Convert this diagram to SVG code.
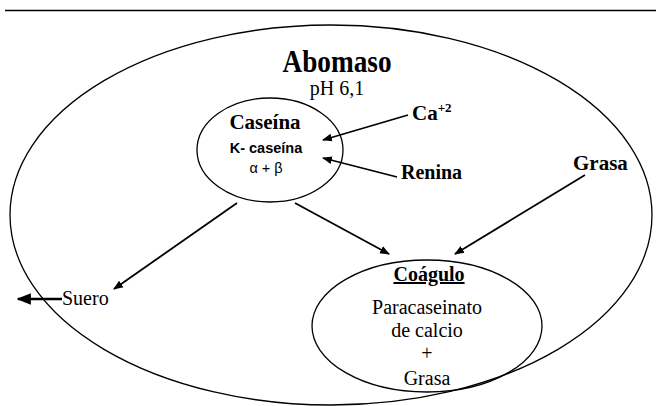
<svg xmlns="http://www.w3.org/2000/svg" width="656" height="406" viewBox="0 0 656 406">
<defs>
<style>
.sh{fill:none;stroke:#000;stroke-width:1.3}
.ln{fill:none;stroke:#000;stroke-width:1.8}
.t{font-family:"Liberation Serif","Times New Roman",serif;fill:#000}
.s{font-family:"Liberation Sans",Arial,sans-serif;fill:#000}
.b{font-weight:bold}
</style>
<marker id="ah" viewBox="0 0 10 10" refX="9" refY="5" markerWidth="5.5" markerHeight="5.5" orient="auto" markerUnits="strokeWidth">
<path d="M0,1 L10,5 L0,9 z" fill="#000"/>
</marker>
</defs>
<rect width="656" height="406" fill="#fff"/>
<line x1="5" y1="10.5" x2="656" y2="10.5" stroke="#000" stroke-width="1.6"/>
<g id="abomaso">
<ellipse class="sh" cx="331" cy="215" rx="321" ry="190"/>
<text class="t b" transform="translate(337,72) scale(0.88,1)" font-size="31" text-anchor="middle">Abomaso</text>
<text class="t" x="337" y="95" font-size="20" text-anchor="middle">pH 6,1</text>
</g>
<g id="caseina">
<ellipse class="sh" cx="270" cy="150" rx="73" ry="52"/>
<text class="t b" x="265" y="129" font-size="21" text-anchor="middle">Caseína</text>
<text class="s b" x="266" y="153" font-size="14.5" text-anchor="middle">K- caseína</text>
<text class="s" x="266" y="173" font-size="14.5" text-anchor="middle">α + β</text>
</g>
<g id="ca">
<text class="t b" x="412" y="120" font-size="21">Ca<tspan font-size="13" dy="-8">+2</tspan></text>
</g>
<g id="renina">
<text class="t b" x="401" y="179" font-size="20">Renina</text>
</g>
<g id="grasa">
<text class="t b" x="573" y="170" font-size="21">Grasa</text>
</g>
<g id="suero">
<text class="t" x="62" y="305" font-size="20">Suero</text>
</g>
<g id="coagulo">
<ellipse class="sh" cx="427" cy="326" rx="115" ry="66"/>
<text class="t b" x="429" y="281" font-size="20" text-anchor="middle" text-decoration="underline">Coágulo</text>
<text class="t" x="427" y="314" font-size="20" text-anchor="middle">Paracaseinato</text>
<text class="t" x="427" y="337" font-size="20" text-anchor="middle">de calcio</text>
<text class="t" x="427" y="360" font-size="20" text-anchor="middle">+</text>
<text class="t" x="427" y="385" font-size="20" text-anchor="middle">Grasa</text>
</g>
<g id="connectors">
<line class="ln" x1="408" y1="115" x2="323" y2="140" marker-end="url(#ah)"/>
<line class="ln" x1="397" y1="177" x2="323" y2="158" marker-end="url(#ah)"/>
<line class="ln" x1="237" y1="203" x2="114" y2="289" marker-end="url(#ah)"/>
<line class="ln" x1="295" y1="203" x2="389" y2="254" marker-end="url(#ah)"/>
<line class="ln" x1="585" y1="175" x2="455" y2="254" marker-end="url(#ah)"/>
<line x1="62" y1="299" x2="18" y2="299" stroke="#000" stroke-width="2.6" marker-end="url(#ah)"/>
</g>
</svg>
